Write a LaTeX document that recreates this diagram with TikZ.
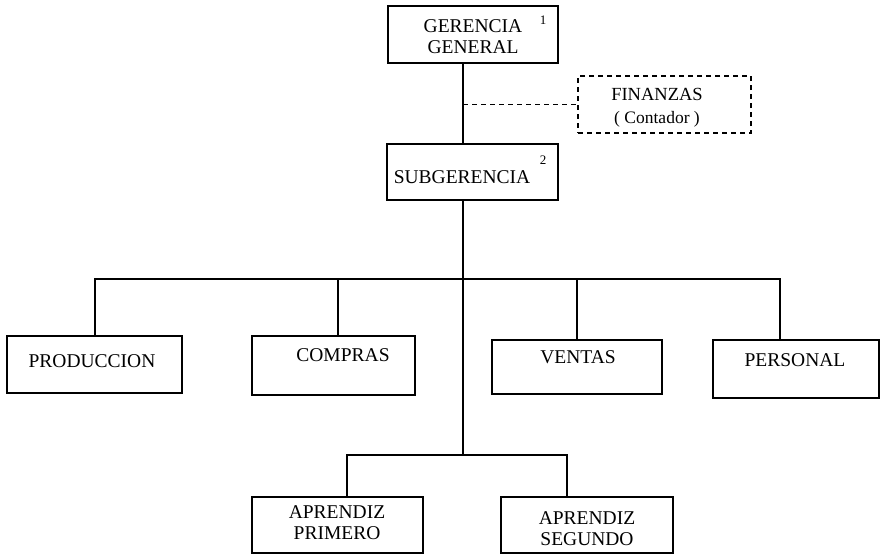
\documentclass[tikz,border=0pt]{standalone}
\usepackage{fontspec}
\setmainfont{Liberation Serif}
\begin{document}
\begin{tikzpicture}[x=1pt,y=-1pt,
  boxst/.style={draw,line width=1.1pt,inner sep=0pt},
  txt/.style={font=\fontsize{19.5}{21}\selectfont,align=center,inner sep=0pt},
  sup/.style={font=\fontsize{13}{13}\selectfont,inner sep=0pt},
  conn/.style={line width=1.1pt},
  dashconn/.style={line width=1.1pt,dash pattern=on 5pt off 4pt}]
\useasboundingbox (0,0) rectangle (882,555);
% boxes
\node[boxst,minimum width=170pt,minimum height=57pt] (gg) at (473,34.5) {};
\node[boxst,dashconn,minimum width=173pt,minimum height=57pt] (fin) at (664.5,104.5) {};
\node[boxst,minimum width=171pt,minimum height=56pt] (sg) at (472.5,172) {};
\node[boxst,minimum width=175pt,minimum height=57pt] (prod) at (94.5,364.5) {};
\node[boxst,minimum width=163pt,minimum height=59pt] (comp) at (333.5,365.5) {};
\node[boxst,minimum width=170pt,minimum height=54pt] (vent) at (577,367) {};
\node[boxst,minimum width=166pt,minimum height=58pt] (pers) at (796,369) {};
\node[boxst,minimum width=171pt,minimum height=56pt] (ap1) at (337.5,525) {};
\node[boxst,minimum width=172pt,minimum height=56pt] (ap2) at (587,525) {};
% texts
\node[txt] (tgg) at (473,37) {GERENCIA\\GENERAL};
\node[sup] (s1) at (543,20) {1};
\node[txt,font=\fontsize{18.5}{23}\selectfont] (tfin) at (657,108) {FINANZAS\\{\fontsize{17.5}{17.5}\selectfont( Contador )}};
\node[txt] (tsg) at (462,177) {SUBGERENCIA};
\node[sup] (s2) at (543,160) {2};
\node[txt] (tprod) at (92,361) {PRODUCCION};
\node[txt] (tcomp) at (343,355) {COMPRAS};
\node[txt] (tvent) at (578,357) {VENTAS};
\node[txt] (tpers) at (795,360) {PERSONAL};
\node[txt] (tap1) at (337,523) {APRENDIZ\\PRIMERO};
\node[txt] (tap2) at (587,529) {APRENDIZ\\SEGUNDO};
% connector coordinates
\coordinate (spine) at (463,0);
\coordinate (bar) at (0,279);
\coordinate (apbar) at (0,455);
\coordinate (xprod) at (95,0);
\coordinate (xcomp) at (338,0);
\coordinate (xvent) at (577,0);
\coordinate (xpers) at (780,0);
\coordinate (xap1) at (347,0);
\coordinate (xap2) at (567,0);
% connectors
\draw[conn] (gg.south -| spine) -- (sg.north -| spine);
\draw[dashconn] (spine |- fin.west) -- (fin.west);
\draw[conn] (sg.south -| spine) -- (spine |- apbar);
\draw[conn] (prod.north -| xprod) -- (xprod |- bar) -- (xpers |- bar) -- (pers.north -| xpers);
\draw[conn] (xcomp |- bar) -- (comp.north -| xcomp);
\draw[conn] (xvent |- bar) -- (vent.north -| xvent);
\draw[conn] (ap1.north -| xap1) -- (xap1 |- apbar) -- (xap2 |- apbar) -- (ap2.north -| xap2);
\end{tikzpicture}
\end{document}
